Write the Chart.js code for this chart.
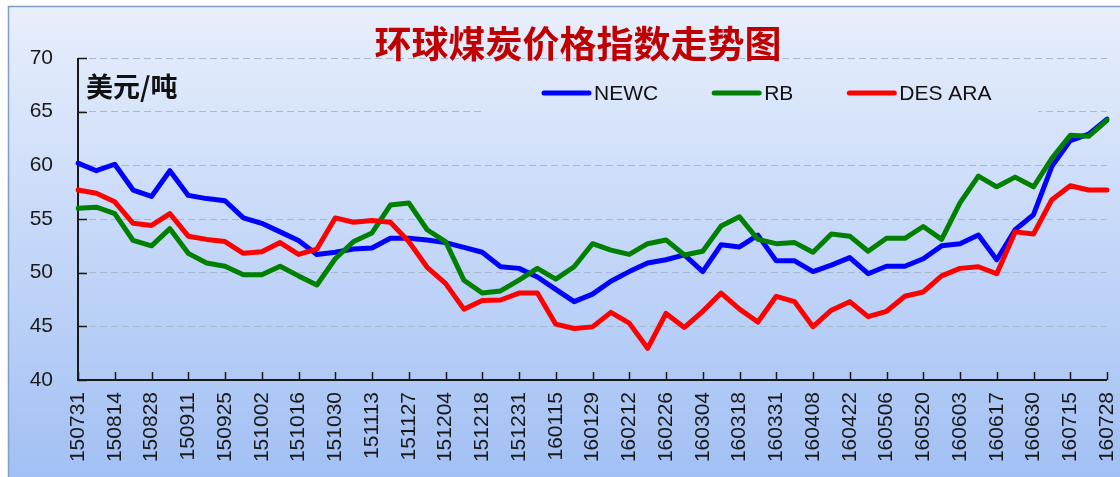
<!DOCTYPE html>
<html>
<head>
<meta charset="utf-8">
<script src="https://cdn.jsdelivr.net/npm/chart.js@4.4.1/dist/chart.umd.min.js"></script>
<style>
html,body{margin:0;padding:0;background:#fff;}
#wrap{width:1120px;height:477px;}
</style>
</head>
<body>
<div id="wrap"><canvas id="c" width="1120" height="477"></canvas></div>
<script>
// ---- data ----
const tickLabels = ['150731','150814','150828','150911','150925','151002','151016','151030','151113','151127',
  '151204','151218','151231','160115','160129','160212','160226','160304','160318','160331',
  '160408','160422','160506','160520','160603','160617','160630','160715','160728'];

const newc = [60.2,59.5,60.1,57.7,57.1,59.5,57.2,56.9,56.7,55.1,
  54.6,53.8,53.0,51.7,51.9,52.2,52.3,53.2,53.2,53.05,
  52.8,52.35,51.9,50.55,50.4,49.6,48.45,47.3,48.0,49.2,
  50.1,50.9,51.2,51.65,50.1,52.6,52.4,53.5,51.1,51.1,
  50.1,50.7,51.4,49.9,50.6,50.6,51.3,52.5,52.7,53.5,
  51.2,54.0,55.4,59.9,62.3,62.9,64.3];

const rb = [56.0,56.1,55.5,53.0,52.5,54.1,51.8,50.9,50.6,49.8,
  49.8,50.6,49.7,48.85,51.3,52.9,53.7,56.3,56.5,54.0,
  52.9,49.3,48.1,48.3,49.3,50.4,49.4,50.55,52.7,52.1,
  51.7,52.7,53.05,51.65,52.0,54.35,55.2,53.1,52.7,52.8,
  51.9,53.6,53.4,52.0,53.2,53.2,54.3,53.1,56.5,59.0,
  58.0,58.9,58.0,60.65,62.8,62.7,64.2];

const desAra = [57.7,57.4,56.6,54.6,54.4,55.5,53.4,53.1,52.9,51.8,
  51.95,52.8,51.7,52.2,55.1,54.7,54.85,54.7,52.9,50.5,
  49.0,46.6,47.4,47.45,48.1,48.1,45.2,44.8,44.95,46.3,
  45.3,42.95,46.2,44.9,46.4,48.1,46.6,45.4,47.8,47.3,
  44.97,46.5,47.3,45.9,46.4,47.8,48.2,49.7,50.4,50.55,
  49.9,53.8,53.6,56.8,58.1,57.7,57.7];

const yTicks = {min: 40, max: 70, step: 5};
const titleText = '环球煤炭价格指数走势图';
const unitText = '美元/吨';

// categories: labelled every other week
const categories = tickLabels.flatMap((t, i) => i < tickLabels.length - 1 ? [t, ''] : [t]);

const FONT = '"Liberation Sans", Arial, sans-serif';
const CJK = '"Noto Sans CJK SC", sans-serif';

function bgGradient(ctx) {
  const g = ctx.createLinearGradient(0, 6, 0, 477);
  g.addColorStop(0, '#e8effc');
  g.addColorStop(1, '#a2c0f4');
  return g;
}

const decor = {
  id: 'decor',
  beforeDraw(chart) {
    const ctx = chart.ctx;
    ctx.save();
    ctx.fillStyle = '#ffffff';
    ctx.fillRect(0, 0, chart.width, chart.height);
    ctx.fillStyle = bgGradient(ctx);
    ctx.fillRect(8, 6, chart.width - 8, chart.height - 6);
    ctx.strokeStyle = '#7f9fc9';
    ctx.lineWidth = 1.5;
    ctx.strokeRect(8.5, 6.5, chart.width + 10, chart.height + 10);
    ctx.restore();
  },
  beforeDatasetsDraw(chart) {
    const ctx = chart.ctx;
    const xs = chart.scales.x, ys = chart.scales.y;
    const a = chart.chartArea;
    ctx.save();
    // legend background (covers grid)
    ctx.fillStyle = bgGradient(ctx);
    ctx.fillRect(485, 72, 553, 43);
    // axes
    ctx.strokeStyle = '#1a1a1a';
    ctx.lineWidth = 2;
    ctx.beginPath();
    ctx.moveTo(a.left, a.top);
    ctx.lineTo(a.left, a.bottom);
    ctx.lineTo(a.right, a.bottom);
    ctx.stroke();
    ctx.lineWidth = 1.5;
    ctx.beginPath();
    for (let v = yTicks.min; v <= yTicks.max; v += yTicks.step) {
      const y = Math.round(ys.getPixelForValue(v)) + 0.5;
      ctx.moveTo(a.left, y);
      ctx.lineTo(a.left + 9, y);
    }
    for (let i = 0; i < categories.length; i += 2) {
      const x = Math.round(xs.getPixelForValue(i)) + 0.5;
      ctx.moveTo(x, a.bottom);
      ctx.lineTo(x, a.bottom - 8);
    }
    ctx.stroke();
    ctx.restore();
  },
  afterDraw(chart) {
    const ctx = chart.ctx;
    ctx.save();
    // title
    ctx.fillStyle = '#c00000';
    ctx.font = 'bold 37px ' + CJK;
    ctx.textAlign = 'center';
    ctx.textBaseline = 'middle';
    ctx.fillText(titleText, 578, 44);
    // unit
    ctx.fillStyle = '#111';
    ctx.font = 'bold 27px ' + CJK;
    ctx.textAlign = 'left';
    ctx.fillText(unitText, 86, 87);
    // legend
    let x = 542;
    const y = 93;
    ctx.font = '21px ' + FONT;
    const ds = chart.data.datasets;
    ds.forEach(d => {
      ctx.strokeStyle = d.borderColor;
      ctx.lineWidth = 5;
      ctx.lineCap = 'round';
      ctx.beginPath();
      ctx.moveTo(x + 2, y);
      ctx.lineTo(x + 47, y);
      ctx.stroke();
      ctx.fillStyle = '#111';
      ctx.textBaseline = 'middle';
      ctx.fillText(d.label, x + 52, y + 1);
      x += 52 + ctx.measureText(d.label).width + 54;
    });
    ctx.restore();
  }
};

const mkDs = (label, data, color, order) => ({
  label, data, borderColor: color, backgroundColor: color,
  borderWidth: 5, pointRadius: 0, tension: 0, order,
  borderJoinStyle: 'round', borderCapStyle: 'round', fill: false
});

new Chart(document.getElementById('c'), {
  type: 'line',
  data: {
    labels: categories,
    datasets: [
      mkDs('NEWC', newc, '#0000ff', 3),
      mkDs('RB', rb, '#008000', 2),
      mkDs('DES ARA', desAra, '#ff0000', 1)
    ]
  },
  options: {
    responsive: false,
    animation: false,
    devicePixelRatio: 1,
    layout: {padding: {top: 58, right: 13, left: 0, bottom: 0}},
    plugins: {legend: {display: false}, title: {display: false}, tooltip: {enabled: false}},
    scales: {
      x: {
        type: 'category',
        offset: false,
        grid: {display: false, drawTicks: false},
        border: {display: false},
        ticks: {
          autoSkip: false, maxRotation: 90, minRotation: 90, padding: 12,
          color: '#1a1a1a', font: {family: FONT, size: 21}
        },
        afterFit(s) { s.height = 97; s.paddingLeft = 0; s.paddingRight = 0; }
      },
      y: {
        min: yTicks.min, max: yTicks.max,
        grid: {
          drawTicks: false, lineWidth: 1,
          color: c => (c.tick && c.tick.value === yTicks.min) ? 'rgba(0,0,0,0)' : '#a9b8d2'
        },
        border: {display: false, dash: [7, 4]},
        ticks: {
          stepSize: yTicks.step, padding: 25,
          color: '#1a1a1a', font: {family: FONT, size: 21}
        },
        afterFit(s) { s.width = 78; s.paddingTop = 0; s.paddingBottom = 0; }
      }
    }
  },
  plugins: [decor]
});
</script>
</body>
</html>
